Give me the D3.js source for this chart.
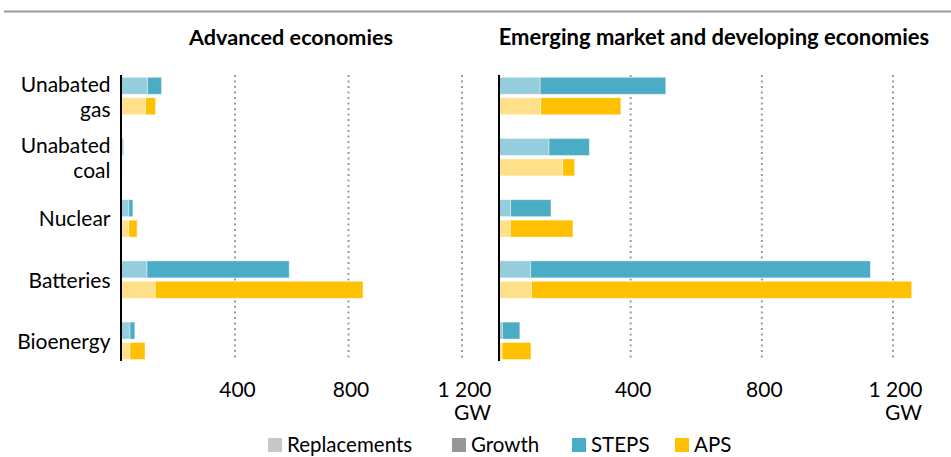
<!DOCTYPE html>
<html>
<head>
<meta charset="utf-8">
<script src="https://cdn.jsdelivr.net/npm/d3@7"></script>
<style>
  html, body { margin: 0; padding: 0; background: #fff; }
  svg { display: block; font-family: Lato, "Open Sans", sans-serif; }
</style>
</head>
<body>
<svg id="chart" width="951" height="457"></svg>
<script>
// Technologies (top to bottom) and their axis labels
const categories = ["Unabated gas", "Unabated coal", "Nuclear", "Batteries", "Bioenergy"];
const categoryLines = [["Unabated", "gas"], ["Unabated", "coal"], ["Nuclear"], ["Batteries"], ["Bioenergy"]];
const scenarios = ["STEPS", "APS"];

// Capacity additions, GW: replacements and growth per scenario
const advStepsReplacements = [92, 6, 26, 90, 30];
const advStepsGrowth       = [49, 2, 14, 501, 17];
const advApsReplacements   = [85, 3, 26, 119, 30];
const advApsGrowth         = [35, 0, 29, 732, 53];

const emdeStepsReplacements = [124, 151, 34, 95, 9];
const emdeStepsGrowth       = [383, 123, 123, 1036, 53];
const emdeApsReplacements   = [126, 193, 33, 98, 8];
const emdeApsGrowth         = [244, 36, 191, 1159, 88];

const tickValues = [400, 800, 1200];
const tickLabels = ["400", "800", "1 200"];
const unitLabel = "GW";
const panelTitles = ["Advanced economies", "Emerging market and developing economies"];
const legendItems = ["Replacements", "Growth", "STEPS", "APS"];

const colors = {
  STEPS: { repl: "#96cddd", growth: "#4bacc6" },
  APS:   { repl: "#ffe08a", growth: "#ffc000" }
};
const legendColors = ["#c8c8c8", "#969696", "#4bacc6", "#ffc000"];

const svg = d3.select("#chart");

// top rule
svg.append("line")
  .attr("x1", 4).attr("x2", 951).attr("y1", 11.5).attr("y2", 11.5)
  .attr("stroke", "#9a9a9a").attr("stroke-width", 2);

const y = d3.scaleBand().domain(categories).range([65.4, 371.4]);
const ySub = d3.scaleBand().domain(scenarios).range([11.9, 49.3]).paddingInner(0.17);
const plotTop = 75, plotBottom = 361;

function rows(stRepl, stGrowth, apRepl, apGrowth) {
  return categories.flatMap((c, i) => [
    { cat: c, sc: "STEPS", repl: stRepl[i], growth: stGrowth[i] },
    { cat: c, sc: "APS", repl: apRepl[i], growth: apGrowth[i] }
  ]);
}

const panels = [
  { title: panelTitles[0], titleX: 291, titleSize: 21.6,
    x: d3.scaleLinear().domain([0, 1200]).range([121.5, 462]),
    data: rows(advStepsReplacements, advStepsGrowth, advApsReplacements, advApsGrowth) },
  { title: panelTitles[1], titleX: 714, titleSize: 22,
    x: d3.scaleLinear().domain([0, 1200]).range([499.5, 893]),
    data: rows(emdeStepsReplacements, emdeStepsGrowth, emdeApsReplacements, emdeApsGrowth) }
];

panels.forEach(p => {
  const g = svg.append("g");
  const x = p.x;

  // dotted gridlines
  g.selectAll("line.grid").data(tickValues).join("line")
    .attr("class", "grid")
    .attr("x1", d => x(d)).attr("x2", d => x(d))
    .attr("y1", plotTop).attr("y2", plotBottom)
    .attr("stroke", "#9a9a9a").attr("stroke-width", 2)
    .attr("stroke-dasharray", "2,3.5");

  // stacked bars: replacements then growth
  const bars = g.selectAll("g.bar").data(p.data).join("g").attr("class", "bar")
    .attr("transform", d => `translate(0,${y(d.cat) + ySub(d.sc)})`);
  bars.append("rect")
    .attr("x", x(0)).attr("width", d => x(d.repl) - x(0))
    .attr("height", ySub.bandwidth())
    .attr("fill", d => colors[d.sc].repl)
    .attr("stroke", "#ffffff").attr("stroke-opacity", 0.5).attr("stroke-width", 0.8);
  bars.append("rect")
    .attr("x", d => x(d.repl)).attr("width", d => x(d.repl + d.growth) - x(d.repl))
    .attr("height", ySub.bandwidth())
    .attr("fill", d => colors[d.sc].growth)
    .attr("stroke", "#ffffff").attr("stroke-opacity", 0.5).attr("stroke-width", 0.8);

  // vertical axis line
  g.append("line")
    .attr("x1", x(0) - 0.5).attr("x2", x(0) - 0.5)
    .attr("y1", plotTop).attr("y2", plotBottom)
    .attr("stroke", "#000").attr("stroke-width", 2);

  // value axis labels
  const axis = d3.axisBottom(x).tickValues(tickValues)
    .tickFormat((d, i) => tickLabels[i]).tickSize(0).tickPadding(0);
  const ax = g.append("g").attr("transform", "translate(2,383)").call(axis);
  ax.select(".domain").remove();
  ax.selectAll("text")
    .attr("dy", 0).attr("y", 14)
    .attr("font-family", "Lato, sans-serif").attr("font-size", 21).attr("fill", "#000");

  // unit, right-aligned under the last tick label
  const lastLabel = ax.selectAll(".tick").filter(d => d === tickValues[tickValues.length - 1]).select("text").node();
  const bb = lastLabel.getBBox();
  const lastX = x(tickValues[tickValues.length - 1]) + 2;
  g.append("text")
    .attr("x", lastX + bb.x + bb.width).attr("y", 420)
    .attr("text-anchor", "end")
    .attr("font-size", 21).attr("fill", "#000")
    .text(unitLabel);

  // panel title
  g.append("text")
    .attr("x", p.titleX).attr("y", 45)
    .attr("text-anchor", "middle")
    .attr("font-weight", "bold").attr("font-size", p.titleSize).attr("fill", "#000")
    .text(p.title);
});

// category labels
const labels = svg.append("g");
categories.forEach((c, i) => {
  const lines = categoryLines[i];
  const center = y(c) + y.bandwidth() / 2;
  const lh = 25;
  lines.forEach((t, j) => {
    labels.append("text")
      .attr("x", 110.5)
      .attr("y", center + 8 + (j - (lines.length - 1) / 2) * lh)
      .attr("text-anchor", "end")
      .attr("font-size", 21).attr("fill", "#000")
      .text(t);
  });
});

// legend
const legendX = [268, 452, 572, 675];
const lg = svg.append("g");
legendItems.forEach((name, i) => {
  lg.append("rect")
    .attr("x", legendX[i]).attr("y", 438)
    .attr("width", 14).attr("height", 14)
    .attr("fill", legendColors[i]);
  lg.append("text")
    .attr("x", legendX[i] + 19).attr("y", 452)
    .attr("font-size", 20.5).attr("fill", "#000")
    .text(name);
});
</script>
</body>
</html>
